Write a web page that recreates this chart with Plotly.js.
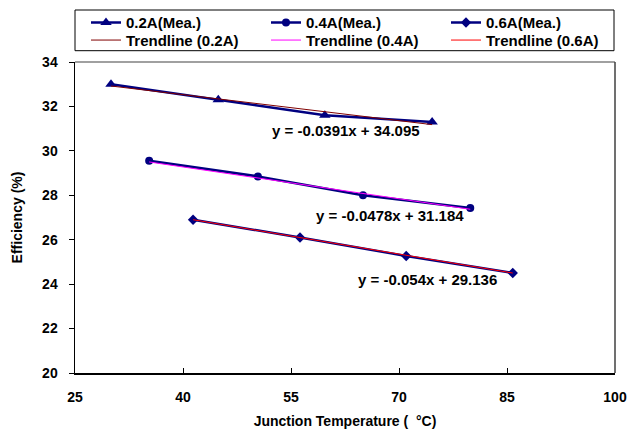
<!DOCTYPE html>
<html>
<head>
<meta charset="utf-8">
<script src="https://cdn.plot.ly/plotly-3.0.1.min.js"></script>
<style>html,body{margin:0;padding:0;background:#fff;}#chart{width:637px;height:433px;}</style>
</head>
<body>
<div id="chart"></div>
<script>
// Measured data
const x02 = [30, 44.9, 59.7, 74.6];
const y02 = [33.0, 32.3, 31.6, 31.3];
const x04 = [35.3, 50.4, 65.0, 79.9];
const y04 = [29.55, 28.85, 28.0, 27.43];
const x06 = [41.4, 56.25, 71.0, 85.8];
const y06 = [26.9, 26.1, 25.27, 24.5];

// Trendline endpoints
const tx02 = [30, 74.6];
const ty02 = [32.92, 31.18];
const tx04 = [35.3, 79.9];
const ty04 = [29.50, 27.37];
const tx06 = [41.4, 85.8];
const ty06 = [26.90, 24.50];

const seriesNames = ['0.2A(Mea.)', '0.4A(Mea.)', '0.6A(Mea.)'];
const trendNames = ['Trendline (0.2A)', 'Trendline (0.4A)', 'Trendline (0.6A)'];
const equations = ['y = -0.0391x + 34.095', 'y = -0.0478x + 31.184', 'y = -0.054x + 29.136'];
const xTicks = [25, 40, 55, 70, 85, 100];
const yTicks = [20, 22, 24, 26, 28, 30, 32, 34];

const navy = '#000080';
const font = 'Liberation Sans, Arial, sans-serif';

const meas = [[x02, y02, 'triangle-up', 10], [x04, y04, 'circle', 8], [x06, y06, 'diamond', 8]];
const trends = [[tx02, ty02, '#800000'], [tx04, ty04, '#FF00FF'], [tx06, ty06, '#FF0000']];

const data = [];
meas.forEach((m, i) => {
  data.push({x: m[0], y: m[1], name: '<b>' + seriesNames[i] + '</b>', type: 'scatter', mode: 'lines+markers',
    legend: 'legend' + (i === 0 ? '' : (i + 1)),
    line: {color: navy, width: 2.5}, marker: {symbol: m[2], size: m[3], color: navy}});
});
trends.forEach((t, i) => {
  data.push({x: t[0], y: t[1], name: '<b>' + trendNames[i] + '</b>', type: 'scatter', mode: 'lines',
    legend: 'legend' + (i + 4),
    line: {color: t[2], width: 1}});
});

const annPos = [[62.6, 30.9], [68.75, 27.07], [74.0, 24.19]];
const annotations = equations.map((e, i) => ({
  x: annPos[i][0], y: annPos[i][1], xref: 'x', yref: 'y', text: '<b>' + e + '</b>',
  showarrow: false, font: {family: font, size: 15, color: '#000'}
}));

// pixel helpers for paper coordinates (plot area 75..615 x, 62..373 y)
const L = 75, R = 22, T = 62, B = 60, W = 637, H = 433;
const pw = W - L - R, ph = H - T - B;
const px = v => (v - L) / pw;
const py = v => (H - B - v) / ph;

const legCommon = {orientation: 'h', xanchor: 'left', yanchor: 'middle',
  borderwidth: 0, bgcolor: 'rgba(0,0,0,0)',
  font: {family: font, size: 15, color: '#000'}, itemwidth: 30};
const colX = [86, 266, 446];
const rowY = [22.7, 40.3];

const layout = {
  width: W, height: H,
  margin: {l: L, r: R, t: T, b: B, autoexpand: false},
  paper_bgcolor: '#fff', plot_bgcolor: '#fff',
  font: {family: font, color: '#000', size: 13},
  showlegend: true,
  xaxis: {range: [25, 100], tickvals: xTicks, ticktext: xTicks.map(v => '<b>' + v + '</b>'),
    showgrid: false, zeroline: false, showline: true, linecolor: '#000', linewidth: 1.5,
    ticks: 'inside', ticklen: 5, tickcolor: '#000', tickfont: {family: font, size: 14},
    ticklabelstandoff: 11,
    title: {text: '<b>Junction Temperature (  °C)</b>', font: {family: font, size: 14}, standoff: 12}},
  yaxis: {range: [20, 34], tickvals: yTicks, ticktext: yTicks.map(v => '<b>' + v + '</b>'),
    showgrid: false, zeroline: false, showline: true, linecolor: '#000', linewidth: 1.5,
    ticks: 'outside', ticklen: 5, tickcolor: '#000', tickfont: {family: font, size: 14},
    ticklabelstandoff: 8,
    title: {text: '<b>Efficiency (%)</b>', font: {family: font, size: 14}, standoff: 16}},
  annotations: annotations,
  shapes: [
    {type: 'rect', xref: 'paper', yref: 'paper', x0: px(75), x1: px(614), y0: py(50.7), y1: py(10),
      line: {color: '#000', width: 1}, fillcolor: 'rgba(0,0,0,0)'},
    {type: 'line', xref: 'paper', yref: 'paper', x0: 0, x1: 1, y0: 1, y1: 1, line: {color: '#808080', width: 1.5}},
    {type: 'line', xref: 'paper', yref: 'paper', x0: 1, x1: 1, y0: 0, y1: 1, line: {color: '#404040', width: 1.5}}
  ]
};
for (let k = 0; k < 6; k++) {
  const key = 'legend' + (k === 0 ? '' : (k + 1));
  layout[key] = Object.assign({}, legCommon, {x: px(colX[k % 3]), y: py(rowY[Math.floor(k / 3)])});
}

Plotly.newPlot('chart', data, layout, {displayModeBar: false, staticPlot: true});
</script>
</body>
</html>
